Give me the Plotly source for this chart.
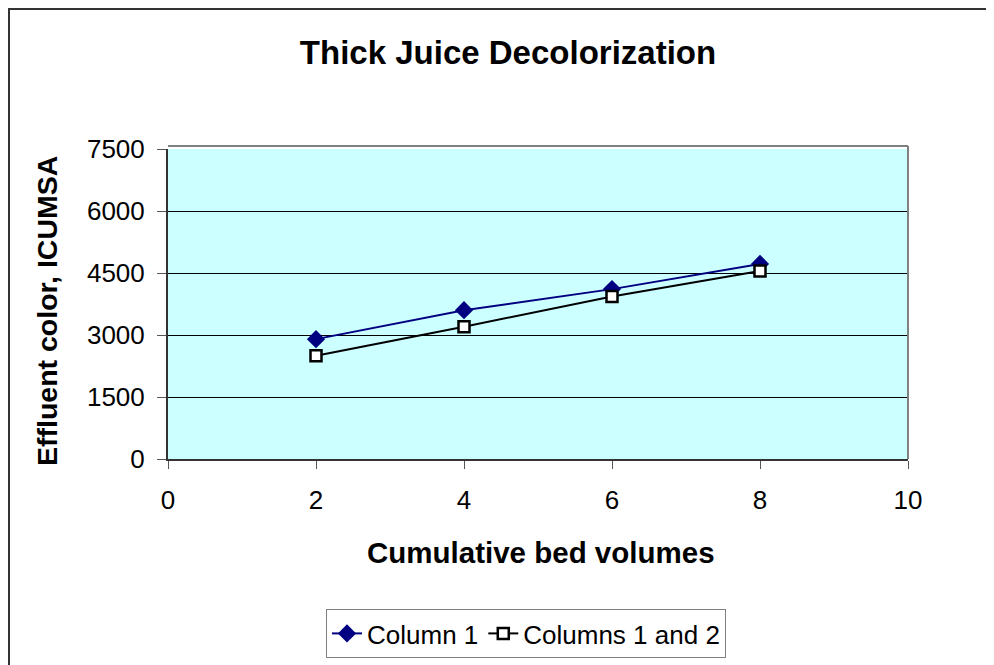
import plotly.graph_objects as go

bed_volumes = [2, 4, 6, 8]
column_1 = [2900, 3600, 4110, 4720]
columns_1_and_2 = [2500, 3200, 3930, 4550]
x_ticks = [0, 2, 4, 6, 8, 10]
y_ticks = [0, 1500, 3000, 4500, 6000, 7500]

OFF = 8  # page body margin
W, H = 994 - 2 * OFF, 665 - OFF
L, R, T, B = 168 - OFF, 908 - OFF, 149 - OFF, 459 - OFF
pw, ph = R - L, B - T

def px(x):  # screen x -> paper
    return (x - OFF - L) / pw

def py(y):  # screen y -> paper
    return (B - (y - OFF)) / ph

FONT = "Liberation Sans, Arial, sans-serif"

fig = go.Figure()
fig.add_trace(go.Scatter(
    x=bed_volumes, y=column_1, name="Column 1", mode="lines+markers",
    line=dict(color="#000080", width=2),
    marker=dict(symbol="diamond", size=14, color="#000080", line=dict(width=0)),
))
fig.add_trace(go.Scatter(
    x=bed_volumes, y=columns_1_and_2, name="Columns 1 and 2", mode="lines+markers",
    line=dict(color="#000000", width=2),
    marker=dict(symbol="square", size=11, color="#ffffff", line=dict(color="#000000", width=2.5)),
))

fig.update_layout(
    width=W, height=H,
    margin=dict(l=L, r=W - R, t=T, b=H - B, pad=0, autoexpand=False),
    paper_bgcolor="#ffffff", plot_bgcolor="#ccffff",
    font=dict(family=FONT, size=26, color="#000000"),
    title=dict(text="<b>Thick Juice Decolorization</b>", x=px(508), xref="paper",
               xanchor="center", y=1 - (52 - OFF) / H, yanchor="middle",
               font=dict(size=33, family=FONT, color="#000000")),
    showlegend=True,
    legend=dict(orientation="h", x=px(526), xanchor="center", y=py(609), yanchor="top",
                bordercolor="#808080", borderwidth=1, bgcolor="#ffffff",
                font=dict(size=26, family=FONT), itemwidth=30, tracegroupgap=0),
    xaxis=dict(range=[0, 10], tickvals=x_ticks, showgrid=False, zeroline=False,
               showline=True, linecolor="#333333", linewidth=2,
               ticks="outside", ticklen=8, tickcolor="#555555", tickwidth=1,
               ticklabelstandoff=9, tickfont=dict(size=26, family=FONT)),
    yaxis=dict(range=[0, 7500], tickvals=y_ticks, showgrid=True, gridcolor="#000000",
               gridwidth=1, zeroline=False, showline=True, linecolor="#333333", linewidth=2,
               ticks="outside", ticklen=9, tickcolor="#555555", tickwidth=1,
               ticklabelstandoff=7, tickfont=dict(size=26, family=FONT)),
    annotations=[
        dict(text="<b>Cumulative bed volumes</b>", xref="paper", yref="paper",
             x=px(541), y=py(552), xanchor="center", yanchor="middle", showarrow=False,
             font=dict(size=29.5, family=FONT)),
        dict(text="<b>Effluent color, ICUMSA</b>", xref="paper", yref="paper",
             x=px(47), y=py(311), xanchor="center", yanchor="middle", showarrow=False,
             textangle=-90, font=dict(size=28.5, family=FONT)),
    ],
    shapes=[
        dict(type="line", xref="paper", yref="paper", x0=0, x1=1, y0=py(146), y1=py(146),
             line=dict(color="#808080", width=2), layer="above"),
        dict(type="line", xref="paper", yref="paper", x0=1, x1=1, y0=0, y1=py(146),
             line=dict(color="#808080", width=2), layer="above"),
        dict(type="rect", xref="paper", yref="paper", x0=px(9), x1=px(1300),
             y0=py(1000), y1=py(9), line=dict(color="#333333", width=2), layer="below"),
    ],
)

fig.write_html("out.html")
